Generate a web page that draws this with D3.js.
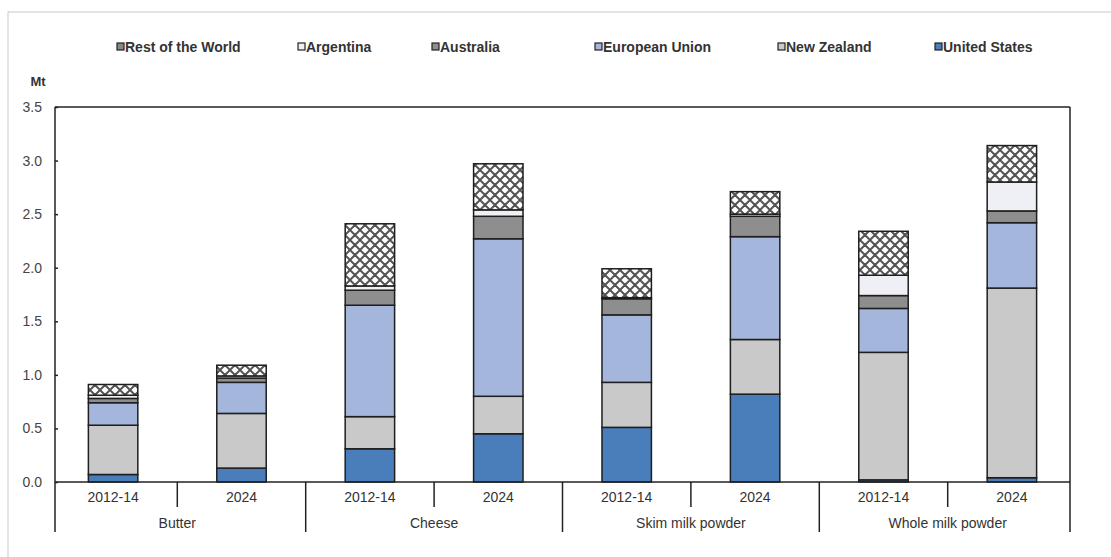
<!DOCTYPE html>
<html>
<head>
<meta charset="utf-8">
<script src="https://cdn.jsdelivr.net/npm/d3@7"></script>
<style>
body { margin: 0; background: #fff; }
svg { display: block; font-family: "Liberation Sans Narrow", "Liberation Sans", Arial, sans-serif; }
</style>
</head>
<body>
<svg></svg>
<script>
const width = 1111;
const height = 557;

const products = ['Butter', 'Cheese', 'Skim milk powder', 'Whole milk powder'];
const periods = ['2012-14', '2024'];
const series = ['United States', 'New Zealand', 'European Union', 'Australia', 'Argentina', 'Rest of the World'];
const legendOrder = ['Rest of the World', 'Argentina', 'Australia', 'European Union', 'New Zealand', 'United States'];
const yTicks = [0, 0.5, 1.0, 1.5, 2.0, 2.5, 3.0, 3.5];

// Mt, bars in order: Butter 2012-14, Butter 2024, Cheese ..., WMP 2024
const unitedStates = [0.07, 0.13, 0.31, 0.45, 0.51, 0.82, 0.02, 0.04];
const newZealand = [0.46, 0.51, 0.30, 0.35, 0.42, 0.51, 1.19, 1.77];
const europeanUnion = [0.21, 0.29, 1.04, 1.47, 0.63, 0.96, 0.41, 0.61];
const australia = [0.04, 0.04, 0.14, 0.21, 0.15, 0.19, 0.12, 0.11];
const argentina = [0.03, 0.02, 0.04, 0.06, 0.01, 0.02, 0.19, 0.27];
const restOfWorld = [0.10, 0.10, 0.58, 0.43, 0.27, 0.21, 0.41, 0.34];

const colors = {
	'United States': '#4a7ebb',
	'New Zealand': '#c9c9c9',
	'European Union': '#a4b6dc',
	'Australia': '#8e8e8e',
	'Argentina': '#eef0f5',
	'Rest of the World': 'url(#hatch)'
};

const rows = [];
products.forEach((p, pi) => {
	periods.forEach((per, ji) => {
		const i = pi * 2 + ji;
		rows.push({
			key: p + '|' + per,
			product: p,
			period: per,
			'United States': unitedStates[i],
			'New Zealand': newZealand[i],
			'European Union': europeanUnion[i],
			'Australia': australia[i],
			'Argentina': argentina[i],
			'Rest of the World': restOfWorld[i]
		});
	});
});

const plotLeft = 55, plotRight = 1070, plotTop = 107, zeroY = 482, plotBottom = 532;

const svg = d3.select('svg')
	.attr('width', width)
	.attr('height', height);

const defs = svg.append('defs');
const pat = defs.append('pattern')
	.attr('id', 'hatch')
	.attr('patternUnits', 'userSpaceOnUse')
	.attr('width', 10)
	.attr('height', 10);
pat.append('rect').attr('width', 10).attr('height', 10).attr('fill', '#fff');
pat.append('path')
	.attr('d', 'M0,0L10,10M10,0L0,10M-5,5L5,15M5,-5L15,5M5,15L15,5M-5,5L5,-5')
	.attr('stroke', '#555')
	.attr('stroke-width', 2);

// outer frame
svg.append('rect')
	.attr('x', 8).attr('y', 12)
	.attr('width', width).attr('height', height)
	.attr('fill', 'none')
	.attr('stroke', '#c8c8c8');

const x = d3.scaleBand()
	.domain(rows.map(d => d.key))
	.range([plotLeft, plotRight])
	.paddingInner(0.615)
	.paddingOuter(0.26);

const y = d3.scaleLinear()
	.domain([0, 3.5])
	.range([zeroY, plotTop]);

const stacked = d3.stack().keys(series)(rows);

svg.append('g')
	.selectAll('g')
	.data(stacked)
	.enter()
	.append('g')
	.attr('fill', d => colors[d.key])
	.selectAll('rect')
	.data(d => d)
	.enter()
	.append('rect')
	.attr('x', d => x(d.data.key))
	.attr('width', x.bandwidth())
	.attr('y', d => y(d[1]))
	.attr('height', d => y(d[0]) - y(d[1]))
	.attr('stroke', '#1e1e1e')
	.attr('stroke-width', 1.5);

// y axis
const yAxis = d3.axisLeft(y)
	.tickValues(yTicks)
	.tickFormat(d3.format('.1f'))
	.tickSize(-3)
	.tickPadding(13);
const ya = svg.append('g')
	.attr('transform', `translate(${plotLeft},0)`)
	.call(yAxis);
ya.select('.domain').remove();
ya.selectAll('line').attr('stroke', '#222').attr('stroke-width', 1.5);
ya.selectAll('text')
	.attr('font-size', 14)
	.attr('fill', '#444');

// frame lines
const frame = svg.append('g').attr('stroke', '#222').attr('stroke-width', 1.5);
frame.append('line').attr('x1', plotLeft).attr('x2', plotRight).attr('y1', plotTop).attr('y2', plotTop);
frame.append('line').attr('x1', plotLeft).attr('x2', plotLeft).attr('y1', plotTop).attr('y2', plotBottom);
frame.append('line').attr('x1', plotRight).attr('x2', plotRight).attr('y1', plotTop).attr('y2', plotBottom);
frame.append('line').attr('x1', plotLeft).attr('x2', plotRight).attr('y1', zeroY).attr('y2', zeroY);

// separators between bars
const step = x.step();
rows.forEach((d, i) => {
	if (i === 0) return;
	const sx = x(d.key) - step * x.paddingInner() / 2;
	const isGroup = i % 2 === 0;
	frame.append('line')
		.attr('x1', sx).attr('x2', sx)
		.attr('y1', zeroY)
		.attr('y2', isGroup ? plotBottom : plotBottom - 25);
});

// x labels
svg.append('g')
	.selectAll('text')
	.data(rows)
	.enter()
	.append('text')
	.attr('x', d => x(d.key) + x.bandwidth() / 2)
	.attr('y', 502)
	.attr('text-anchor', 'middle')
	.attr('font-size', 14)
	.attr('fill', '#333')
	.text(d => d.period);

svg.append('g')
	.selectAll('text')
	.data(products)
	.enter()
	.append('text')
	.attr('x', p => (x(p + '|2012-14') + x(p + '|2024') + x.bandwidth()) / 2)
	.attr('y', 528)
	.attr('text-anchor', 'middle')
	.attr('font-size', 14)
	.attr('fill', '#333')
	.text(p => p);

svg.append('text')
	.attr('x', 38).attr('y', 86)
	.attr('text-anchor', 'middle')
	.attr('font-size', 13)
	.attr('font-weight', 'bold')
	.attr('fill', '#333')
	.text('Mt');

// legend
const legendX = [117, 298, 432, 595, 778, 935];
const lg = svg.append('g')
	.selectAll('g')
	.data(legendOrder)
	.enter()
	.append('g')
	.attr('transform', (d, i) => `translate(${legendX[i]},48)`);
lg.append('rect')
	.attr('x', 0).attr('y', -5)
	.attr('width', 7).attr('height', 7)
	.attr('fill', d => d === 'Rest of the World' ? '#888' : colors[d])
	.attr('stroke', '#222')
	.attr('stroke-width', 1.2);
lg.append('text')
	.attr('x', 8).attr('y', 4)
	.attr('font-size', 14)
	.attr('font-weight', 'bold')
	.attr('fill', '#333')
	.text(d => d);
</script>
</body>
</html>
